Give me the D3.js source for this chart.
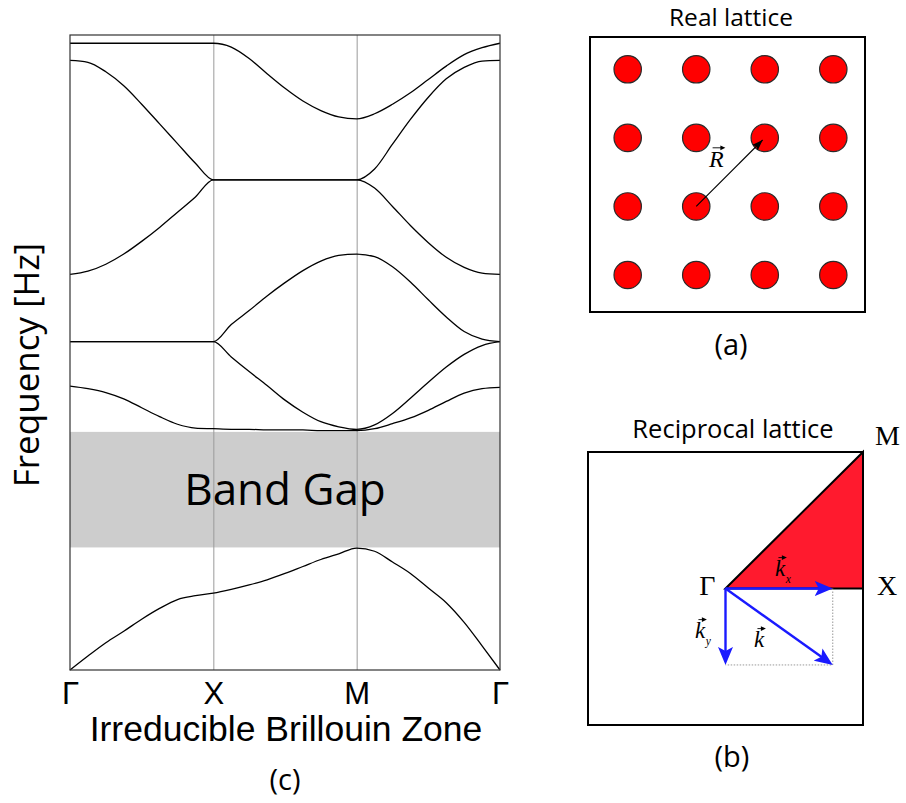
<!DOCTYPE html>
<html>
<head>
<meta charset="utf-8">
<script src="https://cdn.jsdelivr.net/npm/d3@7"></script>
<style>
  html, body { margin: 0; padding: 0; background: #fff; }
  svg { display: block; }
</style>
</head>
<body>
<svg id="fig" width="906" height="803"></svg>
<script>
// ---------- band structure data ----------
// wave-vector samples along the path Γ → X → M → Γ (one unit per segment)
const kPath = [0, 0.125, 0.25, 0.375, 0.5, 0.625, 0.75, 0.875,
               1, 1.125, 1.25, 1.375, 1.5, 1.625, 1.75, 1.875,
               2, 2.125, 2.25, 2.375, 2.5, 2.625, 2.75, 2.875, 3];
const symPoints = [0, 1, 2, 3];
const symLabels = ["Γ", "X", "M", "Γ"];

// normalised frequency of each band at the kPath samples
const band1 = [0.000, 0.022, 0.043, 0.061, 0.080, 0.097, 0.111, 0.117, 0.121,
               0.127, 0.134, 0.142, 0.152, 0.163, 0.174, 0.183, 0.192,
               0.187, 0.170, 0.152, 0.129, 0.106, 0.075, 0.038, 0.000];
const band2 = [0.447, 0.443, 0.437, 0.427, 0.413, 0.399, 0.387, 0.381, 0.380,
               0.379, 0.379, 0.378, 0.378, 0.378, 0.377, 0.377, 0.377,
               0.380, 0.388, 0.397, 0.409, 0.423, 0.436, 0.443, 0.445];
const band3 = [0.517, 0.517, 0.517, 0.517, 0.517, 0.517, 0.517, 0.517, 0.517,
               0.493, 0.470, 0.448, 0.425, 0.406, 0.391, 0.383, 0.379,
               0.386, 0.404, 0.428, 0.453, 0.477, 0.497, 0.511, 0.517];
const band4 = [0.517, 0.517, 0.517, 0.517, 0.517, 0.517, 0.517, 0.517, 0.517,
               0.544, 0.566, 0.589, 0.610, 0.629, 0.644, 0.653, 0.655,
               0.651, 0.635, 0.611, 0.583, 0.556, 0.533, 0.521, 0.517];
const band5 = [0.623, 0.628, 0.639, 0.655, 0.675, 0.697, 0.721, 0.745, 0.772,
               0.772, 0.772, 0.772, 0.772, 0.772, 0.772, 0.772, 0.772,
               0.759, 0.730, 0.700, 0.673, 0.650, 0.634, 0.625, 0.623];
const band6 = [0.960, 0.957, 0.942, 0.920, 0.891, 0.860, 0.829, 0.798, 0.772,
               0.772, 0.772, 0.772, 0.772, 0.772, 0.772, 0.772, 0.772,
               0.789, 0.828, 0.867, 0.902, 0.931, 0.949, 0.959, 0.960];
const band7 = [0.987, 0.987, 0.987, 0.987, 0.987, 0.987, 0.987, 0.987, 0.987,
               0.981, 0.963, 0.939, 0.916, 0.896, 0.881, 0.871, 0.868,
               0.876, 0.891, 0.909, 0.930, 0.951, 0.969, 0.980, 0.987];
const bands = [band1, band2, band3, band4, band5, band6, band7];

// complete band gap between band 1 and band 2
const bandGap = [0.193, 0.375];

// ---------- lattice data ----------
const latticeIdx = [0, 1, 2, 3];           // 4 x 4 square lattice of scatterers
const latticeVector = [[1, 2], [2, 1]];    // R from site (col,row) to site (col,row)

// irreducible Brillouin zone corners (units of π/a) and wave vector k
const ibz = { G: [0, 0], X: [1, 0], M: [1, 1] };
const kVec = [0.78, -0.56];

// ---------- drawing ----------
const svg = d3.select("#fig");
const SANS = "'Open Sans', 'Noto Sans', sans-serif";
const ARIAL = "'Liberation Sans', Arial, sans-serif";
const SERIF = "'Liberation Serif', 'DejaVu Serif', serif";

const defs = svg.append("defs");
function marker(id, color, len, half, notch) {
  defs.append("marker")
    .attr("id", id)
    .attr("markerUnits", "userSpaceOnUse")
    .attr("viewBox", `0 ${-half} ${len} ${2 * half}`)
    .attr("refX", len).attr("refY", 0)
    .attr("markerWidth", len).attr("markerHeight", 2 * half)
    .attr("orient", "auto")
    .append("path")
    .attr("d", `M0,${-half}L${len},0L0,${half}L${notch},0Z`)
    .attr("fill", color);
}
marker("headBlue", "#1a1aff", 18, 7.5, 4);
marker("headBlack", "#000", 11, 4, 2);

// ===== (c) band diagram =====
const x = d3.scaleLinear().domain([0, 3]).range([70, 500]);
const y = d3.scaleLinear().domain([0, 1]).range([670, 35]);

const plot = svg.append("g");

plot.append("rect")
  .attr("x", x(0)).attr("width", x(3) - x(0))
  .attr("y", y(bandGap[1])).attr("height", y(bandGap[0]) - y(bandGap[1]))
  .attr("fill", "#cdcdcd");

// vertical lines at the high-symmetry points
const grid = plot.append("g")
  .attr("transform", `translate(0,${y(0)})`)
  .call(d3.axisBottom(x).tickValues([1, 2]).tickSize(-(y(0) - y(1))).tickFormat(""));
grid.select(".domain").remove();
grid.selectAll("line").attr("stroke", "#9a9a9a").attr("stroke-width", 1);

plot.append("text")
  .attr("x", (x(0) + x(3)) / 2).attr("y", 505)
  .attr("text-anchor", "middle")
  .attr("font-family", SANS).attr("font-size", 44)
  .text("Band Gap");

const line = d3.line()
  .x((d, i) => x(kPath[i]))
  .y(d => y(d))
  .curve(d3.curveMonotoneX);

plot.selectAll("path.band")
  .data(bands)
  .join("path")
  .attr("class", "band")
  .attr("d", line)
  .attr("fill", "none")
  .attr("stroke", "#000")
  .attr("stroke-width", 1.3);

plot.append("rect")
  .attr("x", x(0)).attr("y", y(1))
  .attr("width", x(3) - x(0)).attr("height", y(0) - y(1))
  .attr("fill", "none").attr("stroke", "#333").attr("stroke-width", 1.2);

const xAxis = plot.append("g")
  .attr("transform", `translate(0,${y(0)})`)
  .call(d3.axisBottom(x).tickValues(symPoints).tickSize(0)
    .tickFormat((d, i) => symLabels[i]));
xAxis.select(".domain").remove();
xAxis.selectAll("text")
  .attr("y", 34).attr("dy", 0)
  .attr("font-family", ARIAL).attr("font-size", 31).attr("fill", "#000");

plot.append("text")
  .attr("x", 286).attr("y", 741)
  .attr("text-anchor", "middle")
  .attr("font-family", ARIAL).attr("font-size", 35.5)
  .text("Irreducible Brillouin Zone");

plot.append("text")
  .attr("transform", "translate(39,365) rotate(-90)")
  .attr("text-anchor", "middle")
  .attr("font-family", SANS).attr("font-size", 35)
  .text("Frequency [Hz]");

plot.append("text")
  .attr("x", 285).attr("y", 790)
  .attr("text-anchor", "middle")
  .attr("font-family", SANS).attr("font-size", 29)
  .text("(c)");

// vector label: italic letter with an arrow above and an optional subscript
function vecLabel(g, px, py, letter, sub, size) {
  const t = g.append("text")
    .attr("x", px).attr("y", py)
    .attr("font-family", SERIF).attr("font-style", "italic")
    .attr("font-size", size)
    .text(letter);
  const w = t.node().getComputedTextLength();
  const ay = py - size * 0.8;
  const x0 = px + size * 0.15, x1 = px + w + size * 0.05;
  g.append("line")
    .attr("x1", x0).attr("x2", x1 - 2).attr("y1", ay).attr("y2", ay)
    .attr("stroke", "#000").attr("stroke-width", 0.9);
  g.append("path")
    .attr("d", `M${x1 - 4.5},${ay - 2.4}L${x1 + 0.5},${ay}L${x1 - 4.5},${ay + 2.4}Z`)
    .attr("fill", "#000");
  if (sub) {
    g.append("text")
      .attr("x", px + w + 0.5).attr("y", py + size * 0.3)
      .attr("font-family", SERIF).attr("font-style", "italic")
      .attr("font-size", size * 0.5)
      .text(sub);
  }
}

// ===== (a) real lattice =====
const real = svg.append("g");
const lx = d3.scaleLinear().domain([0, 3]).range([627.7, 833.3]);
const ly = d3.scaleLinear().domain([0, 3]).range([69.3, 275]);

real.append("text")
  .attr("x", 731).attr("y", 26).attr("text-anchor", "middle")
  .attr("font-family", SANS).attr("font-size", 24.5)
  .text("Real lattice");

real.append("rect")
  .attr("x", 590).attr("y", 37).attr("width", 275).attr("height", 275)
  .attr("fill", "#fff").attr("stroke", "#000").attr("stroke-width", 2);

const sites = latticeIdx.flatMap(r => latticeIdx.map(c => [c, r]));
real.selectAll("circle")
  .data(sites)
  .join("circle")
  .attr("cx", d => lx(d[0])).attr("cy", d => ly(d[1]))
  .attr("r", 13.7)
  .attr("fill", "#ff0000").attr("stroke", "#2a2a2a").attr("stroke-width", 1.2);

{
  const [a, b] = latticeVector;
  const x1 = lx(a[0]), y1 = ly(a[1]), x2 = lx(b[0]), y2 = ly(b[1]);
  const L = Math.hypot(x2 - x1, y2 - y1);
  const ux = (x2 - x1) / L, uy = (y2 - y1) / L;
  real.append("line")
    .attr("x1", x1).attr("y1", y1)
    .attr("x2", x2 - ux * 3).attr("y2", y2 - uy * 3)
    .attr("stroke", "#000").attr("stroke-width", 1.1)
    .attr("marker-end", "url(#headBlack)");
  vecLabel(real, 709, 167, "R", null, 24);
}

real.append("text")
  .attr("x", 731).attr("y", 355).attr("text-anchor", "middle")
  .attr("font-family", SANS).attr("font-size", 29)
  .text("(a)");

// ===== (b) reciprocal lattice =====
const rec = svg.append("g");
const bx = d3.scaleLinear().domain([-1, 1]).range([588, 863]);
const by = d3.scaleLinear().domain([-1, 1]).range([725, 452]);

rec.append("text")
  .attr("x", 733).attr("y", 438).attr("text-anchor", "middle")
  .attr("font-family", SANS).attr("font-size", 25.5)
  .text("Reciprocal lattice");

rec.append("rect")
  .attr("x", bx(-1)).attr("y", by(1))
  .attr("width", bx(1) - bx(-1)).attr("height", by(-1) - by(1))
  .attr("fill", "#fff").attr("stroke", "#000").attr("stroke-width", 2);

rec.append("path")
  .attr("d", d3.line()([ibz.G, ibz.M, ibz.X].map(p => [bx(p[0]), by(p[1])])) + "Z")
  .attr("fill", "#ff1a2e").attr("stroke", "#000").attr("stroke-width", 2)
  .attr("stroke-linejoin", "miter");

// dotted construction lines of k
rec.append("path")
  .attr("d", d3.line()([[kVec[0], 0], kVec, [0, kVec[1]]].map(p => [bx(p[0]), by(p[1])])))
  .attr("fill", "none").attr("stroke", "#999").attr("stroke-width", 1)
  .attr("stroke-dasharray", "1.5,1.5");

function blueArrow(p) {
  const x1 = bx(0), y1 = by(0), x2 = bx(p[0]), y2 = by(p[1]);
  const L = Math.hypot(x2 - x1, y2 - y1);
  const ux = (x2 - x1) / L, uy = (y2 - y1) / L;
  rec.append("line")
    .attr("x1", x1).attr("y1", y1)
    .attr("x2", x2 - ux * 8).attr("y2", y2 - uy * 8)
    .attr("stroke", "#1a1aff").attr("stroke-width", 2.4);
  rec.append("line")
    .attr("x1", x2 - ux * 10).attr("y1", y2 - uy * 10)
    .attr("x2", x2).attr("y2", y2)
    .attr("stroke", "none")
    .attr("marker-end", "url(#headBlue)");
}
blueArrow([kVec[0], 0]);
blueArrow([0, kVec[1]]);
blueArrow(kVec);

rec.append("text")
  .attr("x", bx(ibz.G[0]) - 10).attr("y", by(ibz.G[1]) + 6)
  .attr("text-anchor", "end")
  .attr("font-family", SERIF).attr("font-size", 28)
  .text("Γ");
rec.append("text")
  .attr("x", bx(ibz.X[0]) + 14).attr("y", by(ibz.X[1]) + 6)
  .attr("font-family", SERIF).attr("font-size", 28)
  .text("X");
rec.append("text")
  .attr("x", bx(ibz.M[0]) + 12).attr("y", by(ibz.M[1]) - 7)
  .attr("font-family", SERIF).attr("font-size", 28)
  .text("M");

vecLabel(rec, 775, 576, "k", "x", 23);
vecLabel(rec, 695, 638, "k", "y", 23);
vecLabel(rec, 754, 647, "k", null, 23);

rec.append("text")
  .attr("x", 732).attr("y", 767).attr("text-anchor", "middle")
  .attr("font-family", SANS).attr("font-size", 29)
  .text("(b)");
</script>
</body>
</html>
